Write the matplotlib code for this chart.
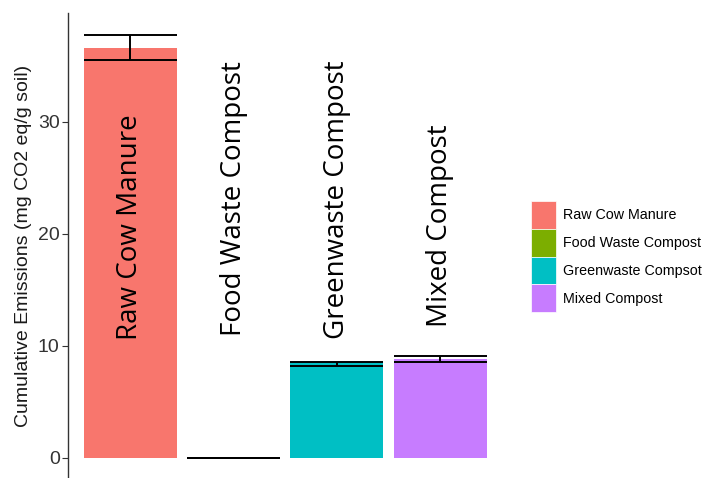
import matplotlib.pyplot as plt
import numpy as np

# values
treatments = ['Raw Cow Manure', 'Food Waste Compost', 'Greenwaste Compost', 'Mixed Compost']
legend_labels = ['Raw Cow Manure', 'Food Waste Compost', 'Greenwaste Compsot', 'Mixed Compost']
emissions = [36.6, 0.0, 8.6, 8.85]
err_low = [35.55, 0.0, 8.2, 8.57]
err_high = [37.75, 0.0, 8.53, 9.13]
label_y = [10.5, 10.85, 10.6, 11.65]
colors = ['#F8766D', '#7CAE00', '#00BFC4', '#C77CFF']

fig = plt.figure(figsize=(7.07, 4.78), dpi=100)
ax = fig.add_axes([68 / 707, 0.0, (502 - 68) / 707, 465 / 478])

x = np.arange(1, len(treatments) + 1)
ax.bar(x, emissions, width=0.9, color=colors, zorder=1)

# error bars as wide as the bars (ggplot style)
for xi, lo, hi in zip(x, err_low, err_high):
    ax.hlines([lo, hi], xi - 0.45, xi + 0.45, color='black', lw=1.4, zorder=3)
    ax.vlines(xi, lo, hi, color='black', lw=1.4, zorder=3)

# labels written inside / above the bars
for xi, name, ly in zip(x, treatments, label_y):
    ax.text(xi, ly, name, rotation=90, rotation_mode='anchor', ha='left', va='center',
            fontsize=20, family='Open Sans', color='black', zorder=4)

ax.set_xlim(0.395, 4.6)
ax.set_ylim(-1.79, 39.73)
ax.set_yticks([0, 10, 20, 30])
ax.set_xticks([])
ax.tick_params(axis='y', labelsize=14, length=4.5, width=0.8, color='#333333',
               labelcolor='#333333', pad=1.5)
for lab in ax.get_yticklabels():
    lab.set_family('Liberation Sans')
ax.set_ylabel('Cumulative Emissions (mg CO2 eq/g soil)', fontsize=14,
              family='Liberation Sans', labelpad=4, color='#1a1a1a')
for s in ['top', 'right', 'bottom']:
    ax.spines[s].set_visible(False)
ax.spines['left'].set_color('#333333')
ax.spines['left'].set_linewidth(1.0)

handles = [plt.Rectangle((0, 0), 1, 1, facecolor=c, edgecolor='white', lw=0.5) for c in colors]
fig.legend(handles, legend_labels, loc='upper left', bbox_to_anchor=(531 / 707, 1 - 201 / 478),
           frameon=False, prop={'family': 'Liberation Sans', 'size': 10.3},
           handlelength=1.75, handleheight=2.61, labelspacing=0.0, borderpad=0,
           borderaxespad=0, handletextpad=0.5)

fig.savefig('out.png', dpi=100)
